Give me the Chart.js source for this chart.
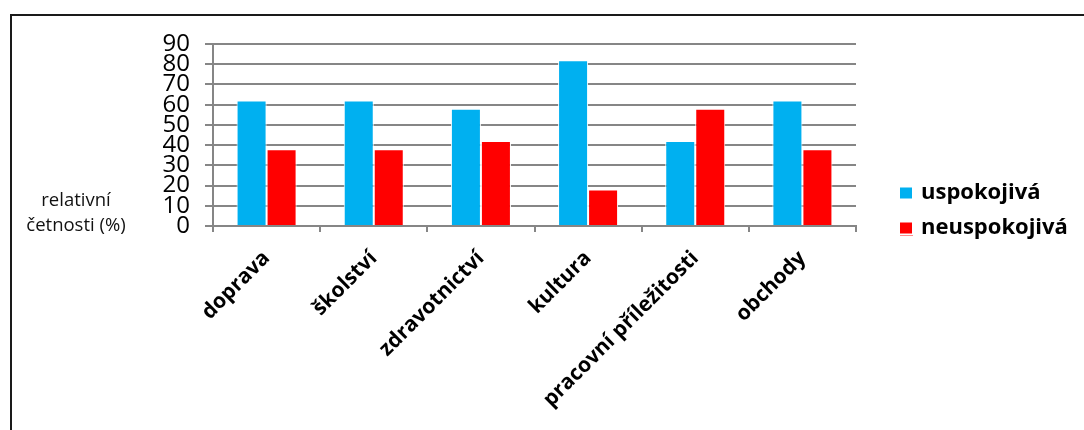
<!DOCTYPE html>
<html>
<head>
<meta charset="utf-8">
<script src="https://cdn.jsdelivr.net/npm/chart.js@4.4.0/dist/chart.umd.min.js"></script>
<style>
  html, body { margin: 0; padding: 0; background: #fff; }
  #wrap { position: relative; width: 1084px; height: 430px; }
</style>
</head>
<body>
<div id="wrap"><canvas id="c" width="1084" height="430"></canvas></div>
<script>
const categories = ['doprava', 'školství', 'zdravotnictví', 'kultura', 'pracovní příležitosti', 'obchody'];
const seriesNames = ['uspokojivá', 'neuspokojivá'];
const uspokojiva = [62, 62, 58, 82, 42, 62];
const neuspokojiva = [38, 38, 42, 18, 58, 38];
const yTitleLines = ['relativní', 'četnosti (%)'];
const yMin = 0, yMax = 90, yStep = 10;

const colors = ['#00B0F0', '#FF0000'];
const FONT = "'Open Sans', sans-serif";

const framePlugin = {
  id: 'frame',
  beforeDraw(chart) {
    const ctx = chart.ctx;
    ctx.save();
    ctx.fillStyle = '#fff';
    ctx.fillRect(0, 0, chart.width, chart.height);
    ctx.strokeStyle = '#1a1a1a';
    ctx.lineWidth = 2;
    ctx.beginPath();
    ctx.moveTo(1084, 15);
    ctx.lineTo(11, 15);
    ctx.lineTo(11, 430);
    ctx.stroke();
    ctx.restore();
  },
  afterDraw(chart) {
    const ctx = chart.ctx;
    ctx.save();
    // y axis title (horizontal, two lines)
    ctx.fillStyle = '#111';
    ctx.font = "18.5px " + FONT;
    ctx.textAlign = 'center';
    ctx.textBaseline = 'middle';
    yTitleLines.forEach((t, i) => ctx.fillText(t, 76, 201 + i * 25));
    // legend
    ctx.font = "bold 22px " + FONT;
    ctx.textAlign = 'left';
    chart.data.datasets.forEach((ds, i) => {
      const y = 193 + i * 35;
      ctx.fillStyle = ds.backgroundColor;
      ctx.fillRect(900, y - 5.5, 12, 11);
      if (i === 1) {
        ctx.fillStyle = '#ff8c8c';
        ctx.fillRect(900, y + 7, 13, 1);
      }
      ctx.fillStyle = '#000';
      ctx.fillText(ds.label, 921, y);
    });
    ctx.restore();
  }
};

new Chart(document.getElementById('c'), {
  type: 'bar',
  data: {
    labels: categories,
    datasets: [
      { label: seriesNames[0], data: uspokojiva, backgroundColor: colors[0], borderColor: '#fff', borderWidth: 1 },
      { label: seriesNames[1], data: neuspokojiva, backgroundColor: colors[1], borderColor: '#fff', borderWidth: 1 }
    ]
  },
  options: {
    responsive: false,
    animation: false,
    devicePixelRatio: 1,
    layout: { padding: { left: 0, top: 44, right: 228, bottom: 0 } },
    datasets: { bar: { categoryPercentage: 0.56, barPercentage: 1.0 } },
    plugins: { legend: { display: false }, tooltip: { enabled: false } },
    scales: {
      x: {
        afterFit(s) { s.height = 204; },
        grid: { display: true, drawOnChartArea: false, drawTicks: true, tickLength: 6, color: '#868686', lineWidth: 2, offset: true },
        border: { display: true, color: '#868686', width: 2 },
        ticks: {
          autoSkip: false, minRotation: 45, maxRotation: 45, padding: 14,
          color: '#000',
          font: { family: FONT, size: 21, weight: 'bold' }
        }
      },
      y: {
        min: yMin, max: yMax,
        afterFit(s) { s.width = 213; },
        grid: { color: '#868686', lineWidth: 2, tickLength: 8, drawTicks: true },
        border: { display: true, color: '#868686', width: 2 },
        ticks: {
          stepSize: yStep, autoSkip: false, padding: 15, color: '#000',
          font: { family: FONT, size: 24, lineHeight: 1 }
        }
      }
    }
  },
  plugins: [framePlugin]
});
</script>
</body>
</html>
